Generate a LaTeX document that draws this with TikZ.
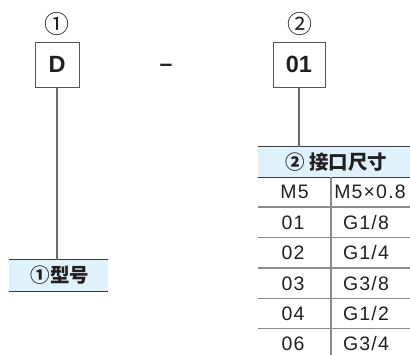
\documentclass[tikz,border=0pt]{standalone}
\usepackage{fontspec}
\setmainfont{Liberation Sans}
\newfontfamily\tbl{Liberation Sans}[LetterSpace=6]
\newfontfamily\cjk{Noto Sans CJK SC}
\definecolor{boxgray}{HTML}{555555}
\definecolor{leadgray}{HTML}{6B6B6B}
\definecolor{bandline}{HTML}{3A3A3A}
\definecolor{rowgray}{HTML}{8A8A8A}
\definecolor{bandblue}{HTML}{DFF1FB}
\definecolor{inkc}{HTML}{231F20}
\tikzset{
  codebox/.style={draw=boxgray, line width=1pt, minimum height=45pt, inner sep=0pt, text=inkc,
    font=\bfseries\fontsize{23.5}{23.5}\selectfont},
  lead/.style={draw=leadgray, line width=1.4pt},
  numlabel/.style={inner sep=0pt, text=inkc, font=\cjk\fontsize{25}{25}\selectfont},
  band/.style={fill=bandblue, inner sep=0pt},
  bandtext/.style={inner sep=0pt, text=inkc, font=\cjk\bfseries\fontsize{19.5}{19.5}\selectfont},
  bandrule/.style={draw=bandline, line width=1.2pt},
  rowrule/.style={draw=rowgray, line width=1.2pt},
  cell/.style={inner sep=0pt, text=inkc, text height=14pt, text depth=0pt, font=\tbl\fontsize{19.5}{19.5}\selectfont},
}
\begin{document}
\begin{tikzpicture}[x=1pt,y=-1pt]
\useasboundingbox (0,0) rectangle (410,354);
\clip (0,0) rectangle (410,354);
% top row
\node[numlabel] (n1) at (56.5,23.5) {①};
\node[codebox, minimum width=44pt] (bD) at (57,64.5) {D};
\node[inner sep=0pt, text=inkc, font=\bfseries\fontsize{23}{23}\selectfont] (dash) at (166,68) {–};
\node[numlabel] (n2) at (299.5,23.5) {②};
\node[codebox, minimum width=52pt] (b01) at (299,64.5) {01};
% label 1
\node[band, minimum width=99pt, minimum height=31pt] (lab1) at (58.5,275.5) {};
\node[bandtext] (lab1t) at (60,275.5) {①型号};
\draw[bandrule] (lab1.north west) -- (lab1.north east);
\draw[bandrule] (lab1.south west) -- (lab1.south east);
\draw[lead] (bD.south) -- (bD.south |- lab1.north);
% table
\node[band, minimum width=156pt, minimum height=30pt] (hdr) at (336,162) {};
\node[bandtext] (hdrt) at (336.5,162) {② 接口尺寸};
\draw[bandrule] (hdr.north west) -- (hdr.north east);
\draw[bandrule] (hdr.south west) -- (hdr.south east);
\draw[lead] (b01.south) -- (b01.south |- hdr.north);
\foreach \y in {207,237.5,268,298.5,328.5}
  \draw[rowrule] (258,\y) -- (414,\y);
\draw[rowrule] (331,177) -- (331,360);
\node[cell] (a1) at (294.5,191.7) {M5};   \node[cell] (b1) at (370,191.7) {M5×0.8};
\node[cell] (a2) at (293,222) {01};   \node[cell] (b2) at (366,222) {G1/8};
\node[cell] (a3) at (293,252.5) {02};   \node[cell] (b3) at (366,252.5) {G1/4};
\node[cell] (a4) at (293,283) {03};   \node[cell] (b4) at (366,283) {G3/8};
\node[cell] (a5) at (293,313.3) {04};   \node[cell] (b5) at (366,313.3) {G1/2};
\node[cell] (a6) at (293,343.5) {06};   \node[cell] (b6) at (366,343.5) {G3/4};
\end{tikzpicture}
\end{document}
